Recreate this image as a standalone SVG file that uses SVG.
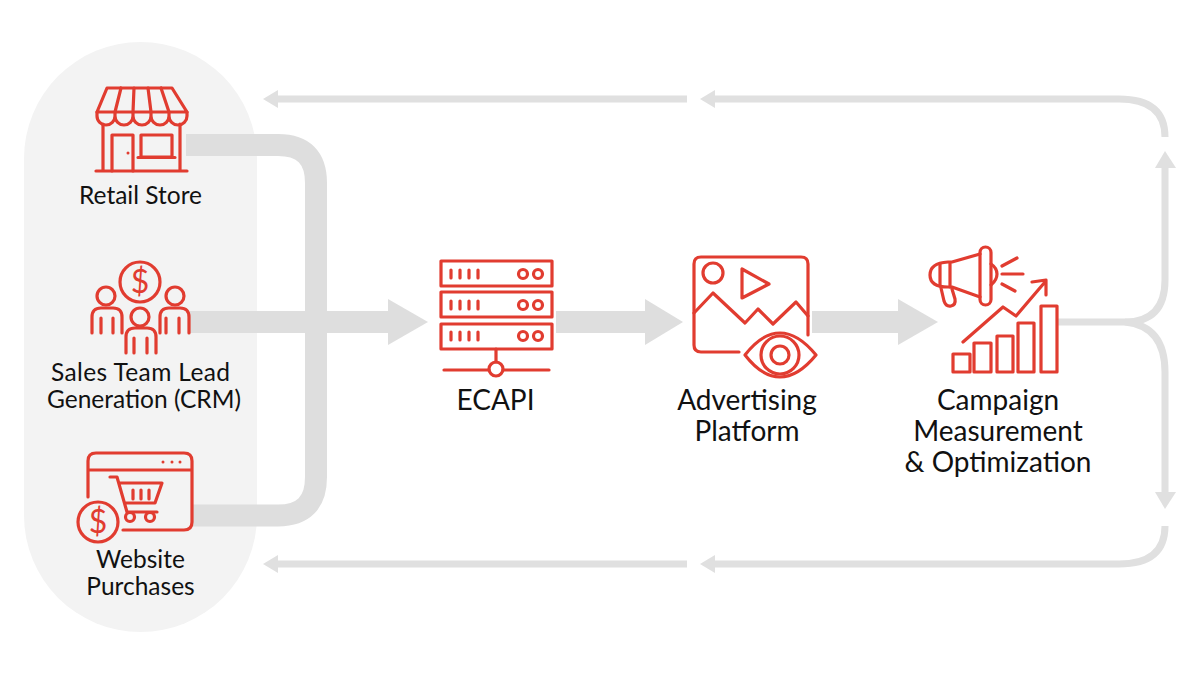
<svg xmlns="http://www.w3.org/2000/svg" width="1200" height="675" viewBox="0 0 1200 675">
<style>
.i{fill:none;stroke:#e13c30;stroke-width:3.200;stroke-linecap:round;stroke-linejoin:round}
.t{font-family:"Lato","Liberation Sans",sans-serif;fill:#111;text-anchor:middle}
.s{font-size:24.500px}
.m{font-size:28px}
.d{font-family:"Lato","Liberation Sans",sans-serif;fill:#e13c30;text-anchor:middle;font-size:32px}
.thick{fill:none;stroke:#dedede;stroke-width:22}
.thin{fill:none;stroke:#e0e0e0;stroke-width:7}
.hd{fill:#dedede}
.hs{fill:#e0e0e0}
</style>
<rect width="1200" height="675" fill="#fff"/>
<rect x="24" y="42" width="233" height="590" rx="116.500" fill="#f3f3f3"/>
<g id="connectors">
<path class="thick" d="M186 145H278Q316 145 316 183V477Q316 515.500 278 515.500H193"/>
<path class="thick" d="M190 322H390"/>
<polygon class="hd" points="388,299 428,322 388,345"/>
<path class="thick" d="M556 322H647"/>
<polygon class="hd" points="645,299 683,322 645,345"/>
<path class="thick" d="M812 322H900"/>
<polygon class="hd" points="898,299 938,322 898,345"/>
<path class="thin" d="M276 99H687"/>
<polygon class="hs" points="263,99 278,90 278,108"/>
<path class="thin" d="M713 99H1119Q1165 99 1165 137"/>
<polygon class="hs" points="700,99 715,90 715,108"/>
<path class="thin" d="M1058 322H1125Q1165 322 1165 280V166"/>
<polygon class="hs" points="1165,151 1176,168 1155,168"/>
<path class="thin" d="M1125 322Q1165 326 1165 372V494"/>
<polygon class="hs" points="1165,509 1176,492 1155,492"/>
<path class="thin" d="M1165 526Q1165 564 1119 564H713"/>
<polygon class="hs" points="700,564 715,555 715,573"/>
<path class="thin" d="M687 564H276"/>
<polygon class="hs" points="263,564 278,555 278,573"/>
</g>
<g id="retail-store">
<g class="i">
<path d="M107 88H172L187 112H97Z"/>
<path d="M121 88L115 112M134 88L133 112M148 88L151 112M161 88L169 112"/>
<path d="M97 112V116A9 9 0 0 0 115 116V112M115 116A9 9 0 0 0 133 116V112M133 116A9 9 0 0 0 151 116V112M151 116A9 9 0 0 0 169 116V112M169 116A9 9 0 0 0 187 116V112"/>
<path d="M103 124V171M180 124V171M96 171H187"/>
<path d="M112 171V135H133V171"/>
<path d="M141 135H172V157H141ZM138 157.500H175"/>
</g>
<circle cx="128" cy="153" r="1.500" fill="#e13c30"/>
<text class="t s" x="140.500" y="204">Retail Store</text>
</g>
<g id="sales-team">
<g class="i">
<circle cx="140" cy="282" r="20"/>
<circle cx="106" cy="296" r="9"/>
<circle cx="175" cy="296" r="9"/>
<path d="M92 333V317Q92 308 101 308H113Q122 308 122 317V333M101 318V333M113 318V333"/>
<path d="M160 333V317Q160 308 169 308H180Q189 308 189 317V333M166 318V333M179 318V333"/>
<circle cx="140" cy="317" r="9"/>
<path d="M126 353V337Q126 328 135 328H147Q156 328 156 337V353M134 338V353M147 338V353"/>
</g>
<text class="d" x="140" y="293">$</text>
<text class="t s" x="140.500" y="381" textLength="179" lengthAdjust="spacing">Sales Team Lead</text>
<text class="t s" x="144" y="408">Generation (CRM)</text>
</g>
<g id="website-purchases">
<g class="i">
<path d="M88 497V461Q88 453 96 453H184Q192 453 192 461V522Q192 530 184 530H123M88 470H192"/>
<path d="M110 477H117L127 512H157M119 483H162L155 503H125"/>
<circle cx="130" cy="517" r="4.500"/>
<circle cx="150" cy="517" r="4.500"/>
<path d="M133 490V499M141 490V499M149 490V499"/>
<circle cx="98" cy="522" r="20"/>
</g>
<g fill="#e13c30"><circle cx="163" cy="462" r="1.500"/><circle cx="172" cy="462" r="1.500"/><circle cx="180" cy="462" r="1.500"/></g>
<text class="d" x="98" y="533">$</text>
<text class="t s" x="140.500" y="568">Website</text>
<text class="t s" x="140.500" y="595">Purchases</text>
</g>
<g id="ecapi">
<g class="i">
<rect x="441" y="261" width="111" height="25"/>
<rect x="441" y="292" width="111" height="25"/>
<rect x="441" y="324" width="111" height="25"/>
<path d="M451 270V278M460 270V278M469 270V278M478 270V278M451 301V309M460 301V309M469 301V309M478 301V309M451 332V340M460 332V340M469 332V340M478 332V340"/>
<circle cx="523" cy="274" r="4.500"/><circle cx="538" cy="274" r="4.500"/>
<circle cx="523" cy="305" r="4.500"/><circle cx="538" cy="305" r="4.500"/>
<circle cx="523" cy="336" r="4.500"/><circle cx="538" cy="336" r="4.500"/>
<path d="M496 349V362M444 370H489M503 370H549"/>
<circle cx="496" cy="369" r="7"/>
</g>
<text class="t m" x="495.500" y="410">ECAPI</text>
</g>
<g id="advertising-platform">
<g class="i">
<path d="M808 335V264Q808 257 801 257H701Q694 257 694 264V345Q694 352 701 352H739"/>
<circle cx="713" cy="273" r="10"/>
<path d="M742 269V298L769 284Z"/>
<path d="M694 313L713 293L745 323L758 309L773 324L796 302L808 316"/>
<path d="M745 355Q762 333 780 333Q798 333 816 355Q798 377 780 377Q762 377 745 355Z"/>
<circle cx="780" cy="355" r="19"/>
<circle cx="780" cy="355" r="9"/>
</g>
<text class="t m" x="747" y="410">Advertising</text>
<text class="t m" x="747" y="441">Platform</text>
</g>
<g id="campaign-measurement">
<g class="i">
<rect x="980" y="247" width="11" height="58" rx="5.500"/>
<path d="M980 254L952 262H948Q930 263 930 275Q930 287 948 287H952L980 297"/>
<path d="M940 264V286M950 263V287"/>
<path d="M941 288L944 301Q946 307 951 306Q956 305 955 299L952 289"/>
<path d="M991 264Q997 268 997 274Q997 280 991 285"/>
<path d="M1002 266L1017 258M1002 274H1023M1002 284L1015 291"/>
<path d="M963 342L1003 307L1016 316L1045 282M1032 282L1046 280V295"/>
<rect x="953" y="354" width="17" height="18"/>
<rect x="974" y="343" width="17" height="29"/>
<rect x="997" y="336" width="16" height="36"/>
<rect x="1018" y="323" width="16" height="49"/>
<rect x="1041" y="306" width="16" height="66"/>
</g>
<text class="t m" x="998" y="410">Campaign</text>
<text class="t m" x="998" y="441">Measurement</text>
<text class="t m" x="998" y="472">&amp; Optimization</text>
</g>
</svg>
